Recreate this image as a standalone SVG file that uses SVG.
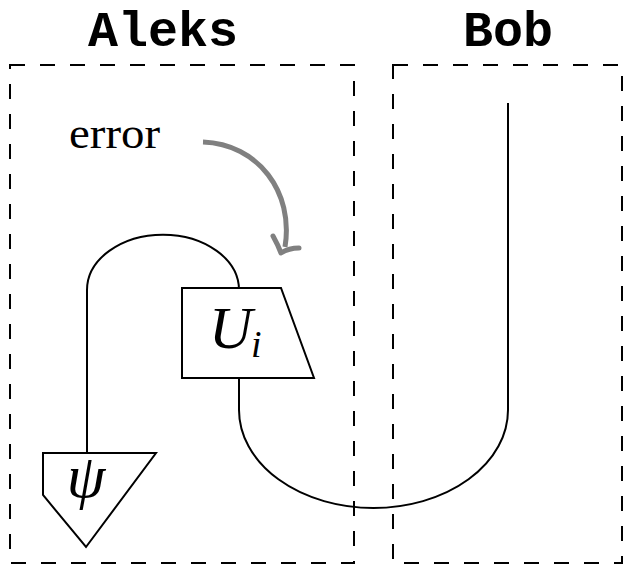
<svg xmlns="http://www.w3.org/2000/svg" width="624" height="568" viewBox="0 0 624 568">
<style>
.box{fill:none;stroke:#000;stroke-width:2;stroke-dasharray:15 15}
.wire{fill:none;stroke:#000;stroke-width:2}
.shape{fill:#fff;stroke:#000;stroke-width:2;stroke-linejoin:miter}
.title{font-family:"Liberation Mono",monospace;font-weight:bold;font-size:50px;text-anchor:middle}
.math{font-family:"Liberation Serif",serif;font-style:italic}
</style>
<rect width="624" height="568" fill="#fff"/>
<g id="aleks">
<path class="box" d="M10,65 H354 V563 H10 Z"/>
<text class="title" x="163" y="46">Aleks</text>
</g>
<g id="bob">
<path class="box" d="M393,65 H622 V563 H393 Z"/>
<text class="title" x="508" y="46">Bob</text>
</g>
<g id="connectors">
<path class="wire" d="M87,453 V290 A75.5 55 0 0 1 239,290 V288"/>
<path class="wire" d="M239,378 V410 A134.5 98 0 0 0 508,410 V103"/>
<path fill="none" stroke="#808080" stroke-width="5" stroke-linecap="butt" d="M203,142 C258,144 294,192 285,247"/>
<path fill="none" stroke="#808080" stroke-width="5" stroke-linecap="round" stroke-linejoin="round" d="M273,236 Q278,245 281,253 Q289,248 299,248"/>
</g>
<g id="error">
<text font-family="Liberation Serif,serif" font-size="44" x="69" y="148" textLength="91" lengthAdjust="spacingAndGlyphs">error</text>
</g>
<g id="U">
<path class="shape" d="M182,288 H281 L314,378 H182 Z"/>
<text class="math" font-size="60" x="209" y="348">U</text>
<text class="math" font-size="38" x="251" y="357">i</text>
</g>
<g id="psi">
<path class="shape" d="M43,453 H156 L86,547 L43,495 Z"/>
<text class="math" font-size="62" x="86" y="497" text-anchor="middle">ψ</text>
</g>
</svg>
